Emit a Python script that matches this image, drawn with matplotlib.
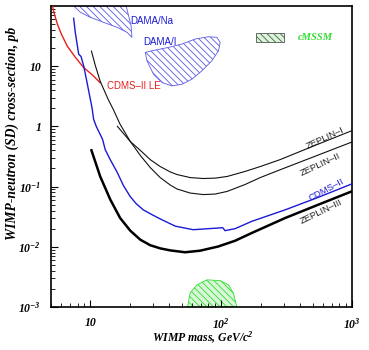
import matplotlib
matplotlib.use('Agg')
import matplotlib.pyplot as plt
from matplotlib.patches import Polygon, Rectangle

# ---------------- data ----------------
cdms_le_x = [5.13, 5.31, 5.6, 6.01, 6.67, 7.67, 8.85, 10.4, 11.9]
cdms_le_y = [100, 73.6, 50, 34, 21.5, 14.1, 9.6, 7.1, 5.3]

cdms_x = [7.46, 7.67, 8.15, 8.49, 8.9, 9.44, 10.3, 10.6, 11.1, 12.4, 13.0, 14.2, 16.1,
          17.9, 20.2, 22.4, 25.4, 29.7, 34.2, 44.6, 61, 103, 107, 128, 171, 308, 550, 1000]
cdms_y = [62.4, 36.9, 15.8, 14.5, 10.1, 5.35, 2.05, 1.31, 1.0, 0.61, 0.41, 0.28, 0.17,
          0.104, 0.068, 0.052, 0.041, 0.034, 0.029, 0.022, 0.0192, 0.0207, 0.0185,
          0.020, 0.0264, 0.041, 0.066, 0.111]

z3_x = [10.2, 11.9, 14.2, 16.9, 20.2, 24.1, 28.7, 34.2, 40.8, 53, 69, 95, 128, 171, 308,
        553, 1000]
z3_y = [0.40, 0.147, 0.061, 0.030, 0.0185, 0.0131, 0.0106, 0.0094, 0.0087, 0.0081, 0.0086,
        0.0101, 0.0126, 0.0169, 0.030, 0.050, 0.0835]

z1_x = [16.1, 20.2, 24.1, 28.7, 34.2, 40.8, 46.1, 58, 72.9, 90, 111, 152, 199, 282, 531, 1000]
z1_y = [1.0, 0.56, 0.40, 0.28, 0.215, 0.175, 0.158, 0.141, 0.136, 0.138, 0.147,
        0.178, 0.215, 0.28, 0.49, 0.85]

z2_x = [10.2, 10.9, 11.9, 13.7, 15.0, 16.9, 20.2, 24.1, 28.7, 34.2, 40.8, 46.1, 58, 72.9,
        90, 111, 152, 199, 282, 1000]
z2_y = [17.8, 10.4, 5.6, 2.8, 1.9, 1.08, 0.562, 0.329, 0.207, 0.141, 0.106, 0.0909, 0.078,
        0.0736, 0.075, 0.083, 0.108, 0.141, 0.19, 0.55]

dama_na_x = [7.46, 8.39, 10.0, 12.6, 16.0, 19.1, 20.8, 20.5, 19.6, 18.8]
dama_na_y = [100, 78.5, 64.8, 53.5, 44.2, 36.4, 30.1, 47.0, 68.9, 100]

dama_i_x = [26.3, 31.3, 39.6, 50.1, 63.3, 80.0, 92.7, 98.3, 95.4, 84.9, 71.2, 59.7,
            50.1, 42.0, 35.3, 30.4, 27.1]
dama_i_y = [16.9, 18.5, 20.5, 23.3, 28.2, 30.8, 30.1, 24.8, 18.0, 12.3, 8.35, 6.07,
            5.0, 4.7, 5.35, 7.36, 12.3]

cmssm_x = [55.3, 57.9, 65.2, 77.8, 98.3, 113.7, 124.1, 131.8]
cmssm_y = [1.0e-3, 1.71e-3, 2.33e-3, 2.82e-3, 2.74e-3, 2.33e-3, 1.69e-3, 1.0e-3]

x_ticks = [10, 100, 1000]
x_ticklabels = ['10', '$10^{2}$', '$10^{3}$']
y_ticks = [1e-3, 1e-2, 1e-1, 1, 10]
y_ticklabels = ['$10^{-3}$', '$10^{-2}$', '$10^{-1}$', '1', '10']

# ---------------- style ----------------
plt.rcParams['mathtext.fontset'] = 'custom'
plt.rcParams['mathtext.rm'] = 'Liberation Serif:bold:italic'
plt.rcParams['mathtext.it'] = 'Liberation Serif:bold:italic'
plt.rcParams['mathtext.bf'] = 'Liberation Serif:bold:italic'
plt.rcParams['hatch.linewidth'] = 0.6

BLUE = '#1a1ad6'
RED = '#e8201a'
HBLUE = '#5a5ae6'
GREEN = '#33dd33'

fig = plt.figure(figsize=(3.69, 3.5), dpi=100)
ax = fig.add_axes([0.138, 0.123, 0.816, 0.860])
ax.set_xscale('log')
ax.set_yscale('log')
ax.set_xlim(5, 1000)
ax.set_ylim(1e-3, 100)

# hatched regions
ax.add_patch(Polygon(list(zip(dama_na_x, dama_na_y)), closed=True, facecolor='none',
                     edgecolor=HBLUE, hatch='\\\\\\\\\\', linewidth=0.6, zorder=1))
ax.add_patch(Polygon(list(zip(dama_i_x, dama_i_y)), closed=True, facecolor='none',
                     edgecolor=HBLUE, hatch='\\\\\\\\\\', linewidth=0.6, zorder=1))
ax.add_patch(Polygon(list(zip(cmssm_x, cmssm_y)), closed=True, facecolor='#d8f7d8',
                     edgecolor=GREEN, hatch='\\\\\\\\\\', linewidth=0.6, zorder=1))

# curves
ax.plot(cdms_le_x, cdms_le_y, color=RED, lw=1.0, zorder=3)
ax.plot(cdms_x, cdms_y, color=BLUE, lw=1.0, zorder=3)
ax.plot(z1_x, z1_y, color='#111111', lw=0.8, zorder=3)
ax.plot(z2_x, z2_y, color='#111111', lw=0.8, zorder=3)
ax.plot(z3_x, z3_y, color='black', lw=1.8, zorder=3)

# labels on the chart
lab_kw = dict(family='Liberation Sans', fontsize=6.8, ha='center', va='center',
              rotation_mode='anchor')
ax.text(622, 0.63, 'ZEPLIN\u2013I', rotation=25, color='#222222', **lab_kw)
ax.text(577, 0.233, 'ZEPLIN\u2013II', rotation=25, color='#222222', **lab_kw)
ax.text(641, 0.089, 'CDMS\u2013II', rotation=28, color=BLUE, **lab_kw)
ax.text(587, 0.0388, 'ZEPLIN\u2013III', rotation=26, color='#222222', **lab_kw)
ax.text(13.5, 4.6, 'CDMS\u2013II LE', family='Liberation Sans', fontsize=7,
        color=RED, ha='left', va='center')
ax.text(20.2, 56, 'DAMA/Na', family='Liberation Sans', fontsize=7,
        color=BLUE, ha='left', va='center')
ax.text(25.4, 25, 'DAMA/I', family='Liberation Sans', fontsize=7,
        color=BLUE, ha='left', va='center')

# cMSSM legend entry
ax.add_patch(Rectangle((0.681, 0.880), 0.093, 0.030, transform=ax.transAxes,
                       facecolor='#d8f7d8', edgecolor='#555555', hatch='\\\\\\\\\\',
                       linewidth=0.6, zorder=4))
ax.text(0.821, 0.895, 'cMSSM', transform=ax.transAxes, color=GREEN,
        family='Liberation Serif', fontweight='bold', fontstyle='italic',
        fontsize=7.6, ha='left', va='center')

# axes styling
for s in ax.spines.values():
    s.set_linewidth(1.2)
ax.set_xticks(x_ticks)
ax.set_xticklabels(x_ticklabels)
ax.set_yticks(y_ticks)
ax.set_yticklabels(y_ticklabels)
ax.tick_params(which='both', direction='in', top=False, right=False)
ax.tick_params(which='major', length=5, width=0.8, labelsize=8.5, pad=7)
ax.tick_params(which='minor', length=3, width=0.6)
for lab in ax.get_xticklabels() + ax.get_yticklabels():
    lab.set_family('Liberation Serif')
    lab.set_fontweight('bold')
    lab.set_fontstyle('italic')

fig.text(203 / 369, 1 - 338 / 350, 'WIMP mass, GeV/c$^{2}$', ha='center', va='center',
         family='Liberation Serif', fontweight='bold', fontstyle='italic', fontsize=8.5)
fig.text(12 / 369, 1 - 133 / 350, 'WIMP-neutron (SD) cross-section, pb', rotation=90,
         ha='center', va='center', family='Liberation Serif', fontweight='bold',
         fontstyle='italic', fontsize=9.8)

fig.savefig('out.png', dpi=100)
